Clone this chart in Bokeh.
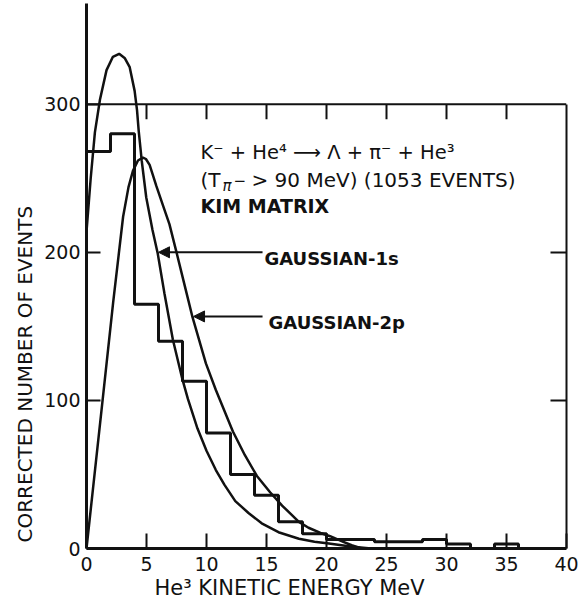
import numpy as np
from bokeh.plotting import figure
from bokeh.models import LinearAxis, FixedTicker, Span, Label, Arrow, NormalHead, Range1d, Title
from bokeh.embed import file_html
from bokeh.resources import INLINE

# ---- data ----
bin_edges = [0, 2, 4, 6, 8, 10, 12, 14, 16, 18, 20, 22, 24, 26, 28, 30, 32, 34, 36]
counts = [268, 280, 165, 140, 113, 78, 50, 36, 18, 10, 6, 6, 4.5, 4.5, 6, 3, 0, 3]

g1s_x = [0.0, 0.35, 0.7, 1.12, 1.67, 2.2, 2.72, 3.2, 3.6, 4.01, 4.21, 4.35, 4.6, 4.98,
         5.5, 5.94, 6.5, 7.2, 8.0, 8.45, 9.25, 10.0, 10.78, 11.5, 12.4, 13.5, 14.6,
         16.0, 17.7, 19.0, 20.2, 22.0, 23.7]
g1s_y = [214, 250, 281, 303, 323, 332, 334, 331, 325, 309, 296, 282, 262, 237,
         215, 199, 172, 141, 114, 101, 81, 66, 53, 43, 32, 24, 17,
         11, 6.6, 4.6, 3.4, 1.3, 0]

g2p_x = [0.0, 1.34, 2.22, 3.05, 3.5, 3.87, 4.29, 4.7, 4.95, 5.26, 5.5, 5.81, 6.4, 6.91,
         7.47, 8.2, 8.84, 9.95, 10.78, 12.2, 13.2, 14.2, 15.3, 16.3, 17.7, 18.5, 19.5,
         20.3, 21.3, 22.1, 22.9]
g2p_y = [0, 100, 166, 224, 244, 255, 262, 264, 263, 259, 253, 245, 231, 219,
         201, 177, 156, 125, 107, 79, 63, 49, 38, 29, 18, 14, 10.5,
         8.3, 4.8, 2.2, 0]

x_ticks = [0, 5, 10, 15, 20, 25, 30, 35, 40]
y_ticks = [0, 100, 200, 300]
top_ticks = [5, 10, 15, 20, 25, 30, 35]
right_ticks = [100, 200]

FONT = "DejaVu Sans"
INK = "#111111"

p = figure(width=580, height=603, x_range=Range1d(0, 40), y_range=Range1d(0, 368),
           output_backend="svg", toolbar_location=None,
           min_border_left=86, min_border_right=14, min_border_top=3, min_border_bottom=55)
p.outline_line_color = None
p.grid.visible = False
p.background_fill_color = "white"
p.border_fill_color = "white"

# bottom axis
xa = p.xaxis[0]
xa.ticker = FixedTicker(ticks=x_ticks)
xa.axis_line_width = 3
xa.axis_line_color = INK
xa.major_tick_in = 15
xa.major_tick_out = 0
xa.major_tick_line_width = 2
xa.major_tick_line_color = INK
xa.minor_tick_line_color = None
xa.major_label_standoff = 8
xa.major_label_text_font = FONT
xa.major_label_text_font_size = "19px"
xa.major_label_text_color = INK

# left axis
ya = p.yaxis[0]
ya.ticker = FixedTicker(ticks=y_ticks)
ya.axis_line_width = 3
ya.axis_line_color = INK
ya.major_tick_in = 14
ya.major_tick_out = 0
ya.major_tick_line_width = 2
ya.major_tick_line_color = INK
ya.minor_tick_line_color = None
ya.major_label_standoff = 6
ya.major_label_text_font = FONT
ya.major_label_text_font_size = "19px"
ya.major_label_text_color = INK

# right border as an axis limited to 0..300
ra = LinearAxis(bounds=(0, 300), ticker=FixedTicker(ticks=right_ticks),
                major_tick_in=16, major_tick_out=0, major_tick_line_width=2,
                major_tick_line_color=INK, minor_tick_line_color=None,
                axis_line_width=2, axis_line_color=INK,
                major_label_overrides={100: "", 200: ""}, major_label_standoff=0)
p.add_layout(ra, "right")

# axis titles
p.add_layout(Title(text="CORRECTED NUMBER OF EVENTS", align="left", offset=6, standoff=10,
                   text_font=FONT, text_font_size="20px", text_font_style="normal",
                   text_color=INK), "left")
p.add_layout(Title(text="He³ KINETIC ENERGY MeV", align="left", offset=68, standoff=0,
                   text_font=FONT, text_font_size="21px", text_font_style="normal",
                   text_color=INK), "below")

# top border at 300 with downward ticks
p.add_layout(Span(location=y_ticks[-1], dimension="width", line_width=2, line_color=INK))
p.ray(x=top_ticks, y=[y_ticks[-1]] * len(top_ticks), length=15, length_units="screen",
      angle=-np.pi / 2, line_width=2, line_color=INK)

# histogram
p.step(x=bin_edges, y=counts + [0], mode="after", line_width=3, line_color=INK)

# model curves
p.line(x=g1s_x, y=g1s_y, line_width=2.5, line_color=INK)
p.line(x=g2p_x, y=g2p_y, line_width=2.5, line_color=INK)

def lab(x, y, text, size="19px", style="normal"):
    p.add_layout(Label(x=x, y=y, text=text, text_font=FONT, text_font_size=size,
                       text_font_style=style, text_align="left",
                       text_baseline="alphabetic", text_color=INK))

# reaction annotation
lab(9.5, 267.4, "K⁻ + He⁴ ⟶ Λ + π⁻ + He³", size="19.5px")
lab(9.5, 248.5, "(T", size="20px")
lab(11.33, 245.1, "π", size="15px", style="italic")
lab(12.25, 248.5, "−", size="15px")
lab(13.75, 248.5, "> 90 MeV) (1053 EVENTS)", size="20px")
lab(9.5, 231.6, "KIM MATRIX", size="19px", style="bold")

# curve labels with arrows
lab(14.83, 195.8, "GAUSSIAN-1s", size="18px", style="bold")
lab(15.17, 152.6, "GAUSSIAN-2p", size="18px", style="bold")
p.add_layout(Arrow(end=NormalHead(size=11, fill_color=INK, line_color=INK),
                   x_start=14.67, y_start=200, x_end=6.0, y_end=200,
                   line_width=2, line_color=INK))
p.add_layout(Arrow(end=NormalHead(size=11, fill_color=INK, line_color=INK),
                   x_start=14.67, y_start=156.7, x_end=8.92, y_end=156.7,
                   line_width=2, line_color=INK))

open("out.html", "w").write(file_html(p, INLINE))
